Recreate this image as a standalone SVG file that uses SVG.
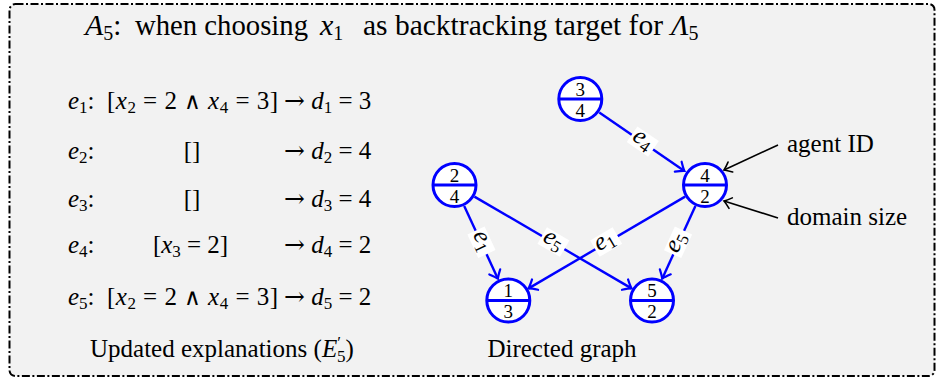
<svg xmlns="http://www.w3.org/2000/svg" width="938" height="381" viewBox="0 0 938 381" font-family="'Liberation Serif', 'Times New Roman', serif">
<defs>
<style>
text{font-family:"Liberation Serif","Times New Roman",serif;fill:#000}
.t{font-size:25px}
.ttl{font-size:29px}
.it{font-style:italic}
.and{font-family:"DejaVu Serif",serif;font-size:23px}
.arr{font-family:"DejaVu Serif",serif;font-size:25px}
.nd{font-size:19px;text-anchor:middle}
.lbl{font-size:25px;text-anchor:middle}
.ring{fill:#fff;stroke:#0000ff;stroke-width:3}
.bar{stroke:#0000ff;stroke-width:3}
.edge{stroke:#0000ff;stroke-width:2.4;fill:none;marker-end:url(#ab)}
.ann{stroke:#000;stroke-width:1.6;fill:none;marker-end:url(#ak)}
.bg{fill:#fff}
</style>
<marker id="ab" markerUnits="userSpaceOnUse" markerWidth="16" markerHeight="16" viewBox="-10 -8 12 16" refX="0" refY="0" orient="auto">
<path d="M-7.5,-6 Q-2.5,-1.5 0,0 Q-2.5,1.5 -7.5,6" fill="none" stroke="#0000ff" stroke-width="2.2" stroke-linecap="round"/>
</marker>
<marker id="ak" markerUnits="userSpaceOnUse" markerWidth="16" markerHeight="16" viewBox="-10 -8 12 16" refX="0" refY="0" orient="auto">
<path d="M-7,-5.5 Q-2.5,-1.5 0,0 Q-2.5,1.5 -7,5.5" fill="none" stroke="#000" stroke-width="1.6" stroke-linecap="round"/>
</marker>
</defs>

<rect x="9.5" y="4" width="925" height="372" rx="6" fill="#f2f2f2" stroke="#000" stroke-width="2" stroke-dasharray="8 2.5 2 2.5"/>

<g id="title" class="ttl">
<text x="85" y="35"><tspan class="it" font-size="30">A</tspan><tspan font-size="20" dy="5">5</tspan><tspan dy="-5">:</tspan></text>
<text x="135" y="35" textLength="173" lengthAdjust="spacingAndGlyphs">when choosing</text>
<text x="320" y="35"><tspan class="it" font-size="30">x</tspan><tspan font-size="20" dy="5">1</tspan></text>
<text x="363" y="35" textLength="300" lengthAdjust="spacingAndGlyphs">as backtracking target for</text>
<text x="671" y="35"><tspan class="it">Λ</tspan><tspan font-size="20" dy="5">5</tspan></text>
</g>

<g id="explanations" class="t">
<text x="68" y="109"><tspan class="it">e</tspan><tspan font-size="17" dy="4">1</tspan><tspan dy="-4">:</tspan></text>
<text x="107" y="109" textLength="171" lengthAdjust="spacing">[<tspan class="it">x</tspan><tspan font-size="17" dy="4">2</tspan><tspan dy="-4"> = 2 </tspan><tspan class="and">∧</tspan> <tspan class="it">x</tspan><tspan font-size="17" dy="4">4</tspan><tspan dy="-4"> = 3]</tspan></text>
<text x="284" y="109"><tspan class="arr">→</tspan> <tspan class="it">d</tspan><tspan font-size="17" dy="4">1</tspan><tspan dy="-4"> = 3</tspan></text>

<text x="68" y="159"><tspan class="it">e</tspan><tspan font-size="17" dy="4">2</tspan><tspan dy="-4">:</tspan></text>
<text x="192" y="159" text-anchor="middle">[]</text>
<text x="284" y="159"><tspan class="arr">→</tspan> <tspan class="it">d</tspan><tspan font-size="17" dy="4">2</tspan><tspan dy="-4"> = 4</tspan></text>

<text x="68" y="207"><tspan class="it">e</tspan><tspan font-size="17" dy="4">3</tspan><tspan dy="-4">:</tspan></text>
<text x="192" y="207" text-anchor="middle">[]</text>
<text x="284" y="207"><tspan class="arr">→</tspan> <tspan class="it">d</tspan><tspan font-size="17" dy="4">3</tspan><tspan dy="-4"> = 4</tspan></text>

<text x="68" y="253"><tspan class="it">e</tspan><tspan font-size="17" dy="4">4</tspan><tspan dy="-4">:</tspan></text>
<text x="153" y="253" textLength="75" lengthAdjust="spacing">[<tspan class="it">x</tspan><tspan font-size="17" dy="4">3</tspan><tspan dy="-4"> = 2]</tspan></text>
<text x="284" y="253"><tspan class="arr">→</tspan> <tspan class="it">d</tspan><tspan font-size="17" dy="4">4</tspan><tspan dy="-4"> = 2</tspan></text>

<text x="68" y="305"><tspan class="it">e</tspan><tspan font-size="17" dy="4">5</tspan><tspan dy="-4">:</tspan></text>
<text x="107" y="305" textLength="171" lengthAdjust="spacing">[<tspan class="it">x</tspan><tspan font-size="17" dy="4">2</tspan><tspan dy="-4"> = 2 </tspan><tspan class="and">∧</tspan> <tspan class="it">x</tspan><tspan font-size="17" dy="4">4</tspan><tspan dy="-4"> = 3]</tspan></text>
<text x="284" y="305"><tspan class="arr">→</tspan> <tspan class="it">d</tspan><tspan font-size="17" dy="4">5</tspan><tspan dy="-4"> = 2</tspan></text>

<text x="90" y="357">Updated explanations (<tspan class="it">E</tspan><tspan font-size="17" dy="-9">′</tspan><tspan font-size="17" dx="-4" dy="14">5</tspan><tspan dy="-5">)</tspan></text>
</g>

<g id="connectors">
<line class="edge" x1="599.3" y1="112.4" x2="684.4" y2="170.9"/>
<line class="edge" x1="464.2" y1="205.9" x2="497.9" y2="278.7"/>
<line class="edge" x1="474.4" y1="196.6" x2="631.5" y2="288.4"/>
<line class="edge" x1="685.1" y1="196.6" x2="528.6" y2="288.4"/>
<line class="edge" x1="695.4" y1="205.9" x2="662.2" y2="278.7"/>
<g transform="translate(642.5,142) rotate(34.4)"><rect class="bg" x="-13" y="-10" width="26" height="19"/><text class="lbl" x="-1" y="4"><tspan class="it">e</tspan><tspan font-size="17" dy="4">4</tspan></text></g>
<g transform="translate(481,242.5) rotate(65.2)"><rect class="bg" x="-13" y="-10" width="26" height="19"/><text class="lbl" x="-1" y="4"><tspan class="it">e</tspan><tspan font-size="17" dy="4">1</tspan></text></g>
<g transform="translate(553.2,242.5) rotate(30.2)"><rect class="bg" x="-13" y="-10" width="26" height="19"/><text class="lbl" x="-1" y="4"><tspan class="it">e</tspan><tspan font-size="17" dy="4">5</tspan></text></g>
<g transform="translate(606.4,242.5) rotate(-30.2)"><rect class="bg" x="-13" y="-10" width="26" height="19"/><text class="lbl" x="-1" y="4"><tspan class="it">e</tspan><tspan font-size="17" dy="4">1</tspan></text></g>
<g transform="translate(678.5,242.5) rotate(-65.3)"><rect class="bg" x="-13" y="-10" width="26" height="19"/><text class="lbl" x="-1" y="4"><tspan class="it">e</tspan><tspan font-size="17" dy="4">5</tspan></text></g>
<line class="ann" x1="778" y1="145" x2="724" y2="170"/>
<line class="ann" x1="778" y1="218" x2="724" y2="201"/>
</g>

<g id="n3">
<circle class="ring" cx="580.3" cy="99" r="21.5"/>
<line class="bar" x1="558.8" y1="99" x2="601.8" y2="99"/>
<text class="nd" x="580.3" y="95.5">3</text><text class="nd" x="580.3" y="116.5">4</text>
</g>
<g id="n2">
<circle class="ring" cx="454.5" cy="185" r="21.5"/>
<line class="bar" x1="433" y1="185" x2="476" y2="185"/>
<text class="nd" x="454.5" y="181.5">2</text><text class="nd" x="454.5" y="202.5">4</text>
</g>
<g id="n4">
<circle class="ring" cx="705" cy="185" r="21.5"/>
<line class="bar" x1="683.5" y1="185" x2="726.5" y2="185"/>
<text class="nd" x="705" y="181.5">4</text><text class="nd" x="705" y="202.5">2</text>
</g>
<g id="n1">
<circle class="ring" cx="508.3" cy="300.5" r="21.5"/>
<line class="bar" x1="486.8" y1="300.5" x2="529.8" y2="300.5"/>
<text class="nd" x="508.3" y="297">1</text><text class="nd" x="508.3" y="318">3</text>
</g>
<g id="n5">
<circle class="ring" cx="652" cy="300.5" r="21.5"/>
<line class="bar" x1="630.5" y1="300.5" x2="673.5" y2="300.5"/>
<text class="nd" x="652" y="297">5</text><text class="nd" x="652" y="318">2</text>
</g>

<text class="t" x="787" y="152">agent ID</text>
<text class="t" x="787" y="225">domain size</text>
<text class="t" x="562" y="357" text-anchor="middle">Directed graph</text>
</svg>
